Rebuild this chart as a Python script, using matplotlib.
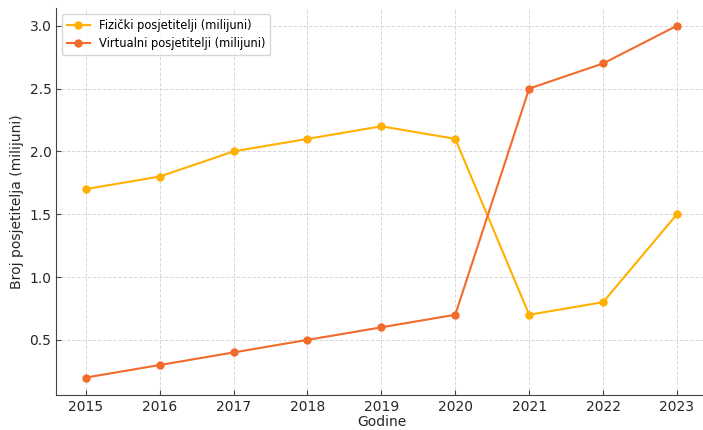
import matplotlib.pyplot as plt

godine = [2015, 2016, 2017, 2018, 2019, 2020, 2021, 2022, 2023]
fizicki = [1.7, 1.8, 2.0, 2.1, 2.2, 2.1, 0.7, 0.8, 1.5]
virtualni = [0.2, 0.3, 0.4, 0.5, 0.6, 0.7, 2.5, 2.7, 3.0]

fig = plt.figure(figsize=(7.03, 4.30), dpi=100)
ax = fig.add_axes([0.08, 0.081, 0.925, 0.9])

ax.plot(godine, fizicki, marker='o', markersize=5, color='#FFB000', linewidth=1.5,
        label='Fizički posjetitelji (milijuni)')
ax.plot(godine, virtualni, marker='o', markersize=5, color='#F26B2A', linewidth=1.5,
        label='Virtualni posjetitelji (milijuni)')

ax.set_xlabel('Godine', fontsize=10, color='#262626', labelpad=1)
ax.set_ylabel('Broj posjetitelja (milijuni)', fontsize=10, color='#262626')
ax.set_xticks(godine)
ax.tick_params(direction='in', labelsize=10, labelcolor='#262626', color='#444444')
ax.grid(True, linestyle='--', color='#d8d8d8', linewidth=0.7)
ax.spines['top'].set_visible(False)
ax.spines['right'].set_visible(False)
for s in ['left', 'bottom']:
    ax.spines[s].set_color('#444444')
ax.legend(loc='upper left', fontsize=8.3)

plt.savefig('out.png', dpi=100)
